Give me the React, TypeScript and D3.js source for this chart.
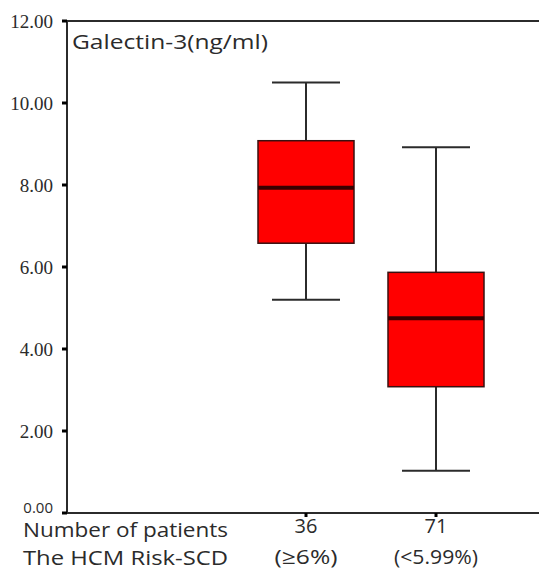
import React from 'react';
import * as d3 from 'd3';

// box statistics (ng/ml)
const groups = ['high', 'low'];
const patients = ['36', '71'];
const riskLabels = ['(≥6%)', '(<5.99%)'];
const whiskerLow = [5.2, 1.03];
const q1 = [6.58, 3.08];
const median = [7.93, 4.75];
const q3 = [9.08, 5.87];
const whiskerHigh = [10.5, 8.92];
const yTicks = [0, 2, 4, 6, 8, 10, 12];

const W = 539;
const H = 574;
const left = 67;
const top = 21;
const bottom = 513;

export default function App() {
  const y = d3.scaleLinear().domain([0, 12]).range([bottom, top]);
  const x = d3.scaleBand().domain(groups).range([241, 501]);
  const boxW = 96;
  const capW = 68;
  const sans = '"Open Sans", "Noto Sans", sans-serif';
  const serif = '"Liberation Serif", "DejaVu Serif", serif';
  const ink = '#2b2b2b';
  const riskWidths = [63, 84];

  return (
    <div style={{ position: 'absolute', left: 0, top: 0, margin: 0 }}>
      <svg width={W} height={H} style={{ display: 'block', background: '#fff' }}>
        {/* frame: left axis, top and bottom lines */}
        <line x1={left} x2={W} y1={top} y2={top} stroke={ink} strokeWidth={2} />
        <line x1={left} x2={W} y1={bottom} y2={bottom} stroke={ink} strokeWidth={2} />
        <line x1={left} x2={left} y1={top} y2={bottom} stroke={ink} strokeWidth={2} />

        {yTicks.map((t) => (
          <g key={t}>
            <line x1={left - 5} x2={left} y1={y(t)} y2={y(t)} stroke="#000" strokeWidth={3} />
            {t === 0 ? (
              <text x={53} y={513} textAnchor="end" fontFamily={sans} fontSize={15} fill={ink}>
                {t.toFixed(2)}
              </text>
            ) : (
              <text x={53} y={y(t)} dy="0.35em" textAnchor="end" fontFamily={serif} fontSize={19} fill={ink}>
                {t.toFixed(2)}
              </text>
            )}
          </g>
        ))}

        <text x={72} y={49} fontFamily={sans} fontSize={20} fill={ink} textLength={196} lengthAdjust="spacingAndGlyphs">
          Galectin-3(ng/ml)
        </text>

        {groups.map((g, i) => {
          const cx = (x(g) as number) + x.bandwidth() / 2;
          return (
            <g key={g}>
              <line x1={cx} x2={cx} y1={y(whiskerHigh[i])} y2={y(q3[i])} stroke={ink} strokeWidth={2} />
              <line x1={cx} x2={cx} y1={y(q1[i])} y2={y(whiskerLow[i])} stroke={ink} strokeWidth={2} />
              <line x1={cx - capW / 2} x2={cx + capW / 2} y1={y(whiskerHigh[i])} y2={y(whiskerHigh[i])} stroke={ink} strokeWidth={2} />
              <line x1={cx - capW / 2} x2={cx + capW / 2} y1={y(whiskerLow[i])} y2={y(whiskerLow[i])} stroke={ink} strokeWidth={2} />
              <rect
                x={cx - boxW / 2}
                y={y(q3[i])}
                width={boxW}
                height={y(q1[i]) - y(q3[i])}
                fill="#ff0000"
                stroke="#3a1010"
                strokeWidth={1.5}
              />
              <line x1={cx - boxW / 2} x2={cx + boxW / 2} y1={y(median[i])} y2={y(median[i])} stroke="#3a0000" strokeWidth={4} />
              <line x1={cx} x2={cx} y1={bottom} y2={bottom + 4} stroke="#000" strokeWidth={3} />
              <text x={cx} y={533} textAnchor="middle" fontFamily={sans} fontSize={20} fill={ink}>
                {patients[i]}
              </text>
              <text
                x={cx - riskWidths[i] / 2}
                y={564}
                fontFamily={sans}
                fontSize={20}
                fill={ink}
                textLength={riskWidths[i]}
                lengthAdjust="spacingAndGlyphs"
              >
                {riskLabels[i]}
              </text>
            </g>
          );
        })}

        <text x={23} y={537} fontFamily={sans} fontSize={20} fill={ink} textLength={205} lengthAdjust="spacingAndGlyphs">
          Number of patients
        </text>
        <text x={23} y={565} fontFamily={sans} fontSize={20} fill={ink} textLength={205} lengthAdjust="spacingAndGlyphs">
          The HCM Risk-SCD
        </text>
      </svg>
    </div>
  );
}
